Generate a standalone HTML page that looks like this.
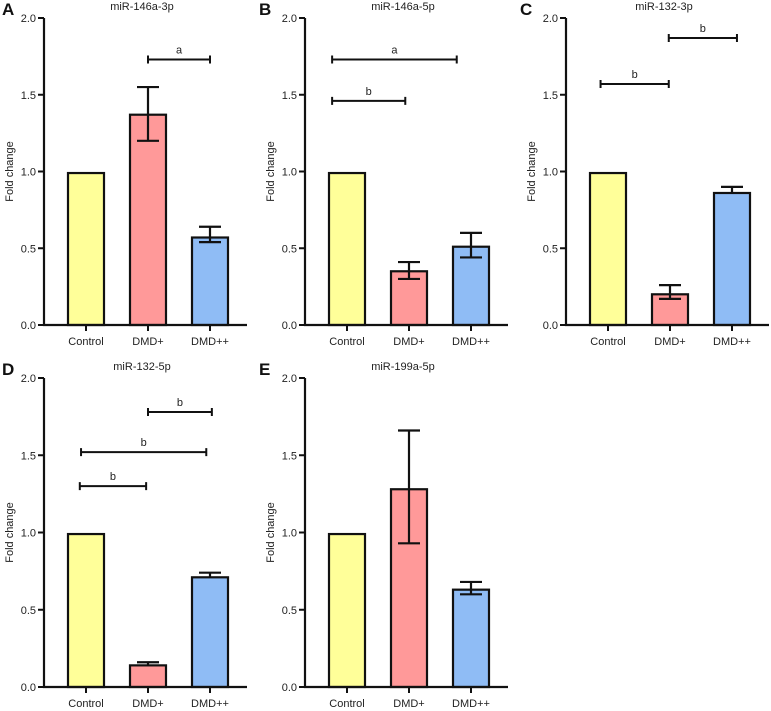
<!DOCTYPE html>
<html><head><meta charset="utf-8"><style>
body{margin:0;background:#fff;}
svg{display:block;font-family:"Liberation Sans","DejaVu Sans",sans-serif;}
</style></head><body>
<svg id="fig" width="771" height="711" viewBox="0 0 771 711"></svg>
<script>
const categories = ["Control","DMD+","DMD++"];
const panelLetters = ["A","B","C","D","E"];
const panelTitles = ["miR-146a-3p","miR-146a-5p","miR-132-3p","miR-132-5p","miR-199a-5p"];
const meanA = [0.99,1.37,0.57];
const meanB = [0.99,0.35,0.51];
const meanC = [0.99,0.20,0.86];
const meanD = [0.99,0.14,0.71];
const meanE = [0.99,1.28,0.63];
const lowA = [null,1.20,0.54], highA = [null,1.55,0.64];
const lowB = [null,0.30,0.44], highB = [null,0.41,0.60];
const lowC = [null,0.17,null], highC = [null,0.26,0.90];
const lowD = [null,null,null], highD = [null,0.16,0.74];
const lowE = [null,0.93,0.60], highE = [null,1.66,0.68];
// significance brackets: [start category pos, end category pos, y value, label]
const sigA = [[1,2,1.73,"a"]];
const sigB = [[-0.24,1.77,1.73,"a"],[-0.24,0.94,1.46,"b"]];
const sigC = [[-0.12,0.98,1.57,"b"],[0.98,2.08,1.87,"b"]];
const sigD = [[1,2.03,1.78,"b"],[-0.08,1.94,1.52,"b"],[-0.1,0.97,1.30,"b"]];
const sigE = [];
const yTicks = [0,0.5,1.0,1.5,2.0];
const yTickLabels = ["0.0","0.5","1.0","1.5","2.0"];
const colors = ["#ffff99","#ff9999","#8fbcf5"];

const panels = [
 {x0:44,top:18,bot:325,m:meanA,lo:lowA,hi:highA,sig:sigA},
 {x0:305,top:18,bot:325,m:meanB,lo:lowB,hi:highB,sig:sigB},
 {x0:566,top:18,bot:325,m:meanC,lo:lowC,hi:highC,sig:sigC},
 {x0:44,top:378,bot:687,m:meanD,lo:lowD,hi:highD,sig:sigD},
 {x0:305,top:378,bot:687,m:meanE,lo:lowE,hi:highE,sig:sigE}
];
const NS="http://www.w3.org/2000/svg";
const svg=document.getElementById("fig");
function mk(tag,attrs,parent){const e=document.createElementNS(NS,tag);for(const k in attrs)e.setAttribute(k,attrs[k]);(parent||svg).appendChild(e);return e;}
panels.forEach((p,pi)=>{
  const g=mk("g",{});
  
  
  const ys=v=>p.bot-(v/2)*(p.bot-p.top);
  const xs=i=>p.x0+42+i*62;
  const L=mk("text",{x:Math.max(2,p.x0-46),y:p.top-3,"font-size":"17","font-weight":"bold",fill:"#111"},g);L.textContent=panelLetters[pi];
  
  
  const T=mk("text",{x:p.x0+98,y:p.top-8,"font-size":"11","text-anchor":"middle",fill:"#222"},g);T.textContent=panelTitles[pi];
  
  
  const yl=mk("text",{x:0,y:0,"font-size":"11","text-anchor":"middle",fill:"#222",transform:`translate(${p.x0-31},${(p.top+p.bot)/2}) rotate(-90)`},g);yl.textContent="Fold change";
  
  
  p.m.forEach((v,i)=>{
    const r=mk("rect",{x:xs(i)-18,y:ys(v),width:36,height:p.bot-ys(v),fill:colors[i],stroke:"#111","stroke-width":"2.2"},g);
    
    
    const hv=p.hi[i], lv=p.lo[i];
    if(hv!==null||lv!==null){
      const a=hv!==null?ys(hv):ys(v), b=lv!==null?ys(lv):ys(v);
      const eb=mk("path",{d:`M${xs(i)},${a}V${b}`+(hv!==null?`M${xs(i)-11},${a}H${xs(i)+11}`:"")+(lv!==null?`M${xs(i)-11},${b}H${xs(i)+11}`:""),stroke:"#111","stroke-width":"2.2",fill:"none"},g);
      
      
    }
    const tk=mk("line",{x1:xs(i),x2:xs(i),y1:p.bot,y2:p.bot+6,stroke:"#111","stroke-width":"2"},g);
    
    
    const tl=mk("text",{x:xs(i),y:p.bot+20,"font-size":"11","text-anchor":"middle",fill:"#222"},g);tl.textContent=categories[i];
    
    
  });
  const ax=mk("path",{d:`M${p.x0},${p.top}V${p.bot}H${p.x0+203}`,stroke:"#111","stroke-width":"2.2",fill:"none"},g);
  
  
  yTicks.forEach((t,k)=>{
    const l=mk("line",{x1:p.x0-6,x2:p.x0,y1:ys(t),y2:ys(t),stroke:"#111","stroke-width":"2"},g);
    
    
    const tx=mk("text",{x:p.x0-8,y:ys(t)+4,"font-size":"11","text-anchor":"end",fill:"#222"},g);tx.textContent=yTickLabels[k];
    
    
  });
  p.sig.forEach(s=>{
    const a=xs(s[0]),b=xs(s[1]),y=ys(s[2]);
    const br=mk("path",{d:`M${a},${y}H${b}M${a},${y-4}V${y+4}M${b},${y-4}V${y+4}`,stroke:"#111","stroke-width":"2",fill:"none"},g);
    
    
    const st=mk("text",{x:(a+b)/2,y:y-6,"font-size":"11","text-anchor":"middle",fill:"#222"},g);st.textContent=s[3];
    
    
  });
});
</script>
</body></html>
